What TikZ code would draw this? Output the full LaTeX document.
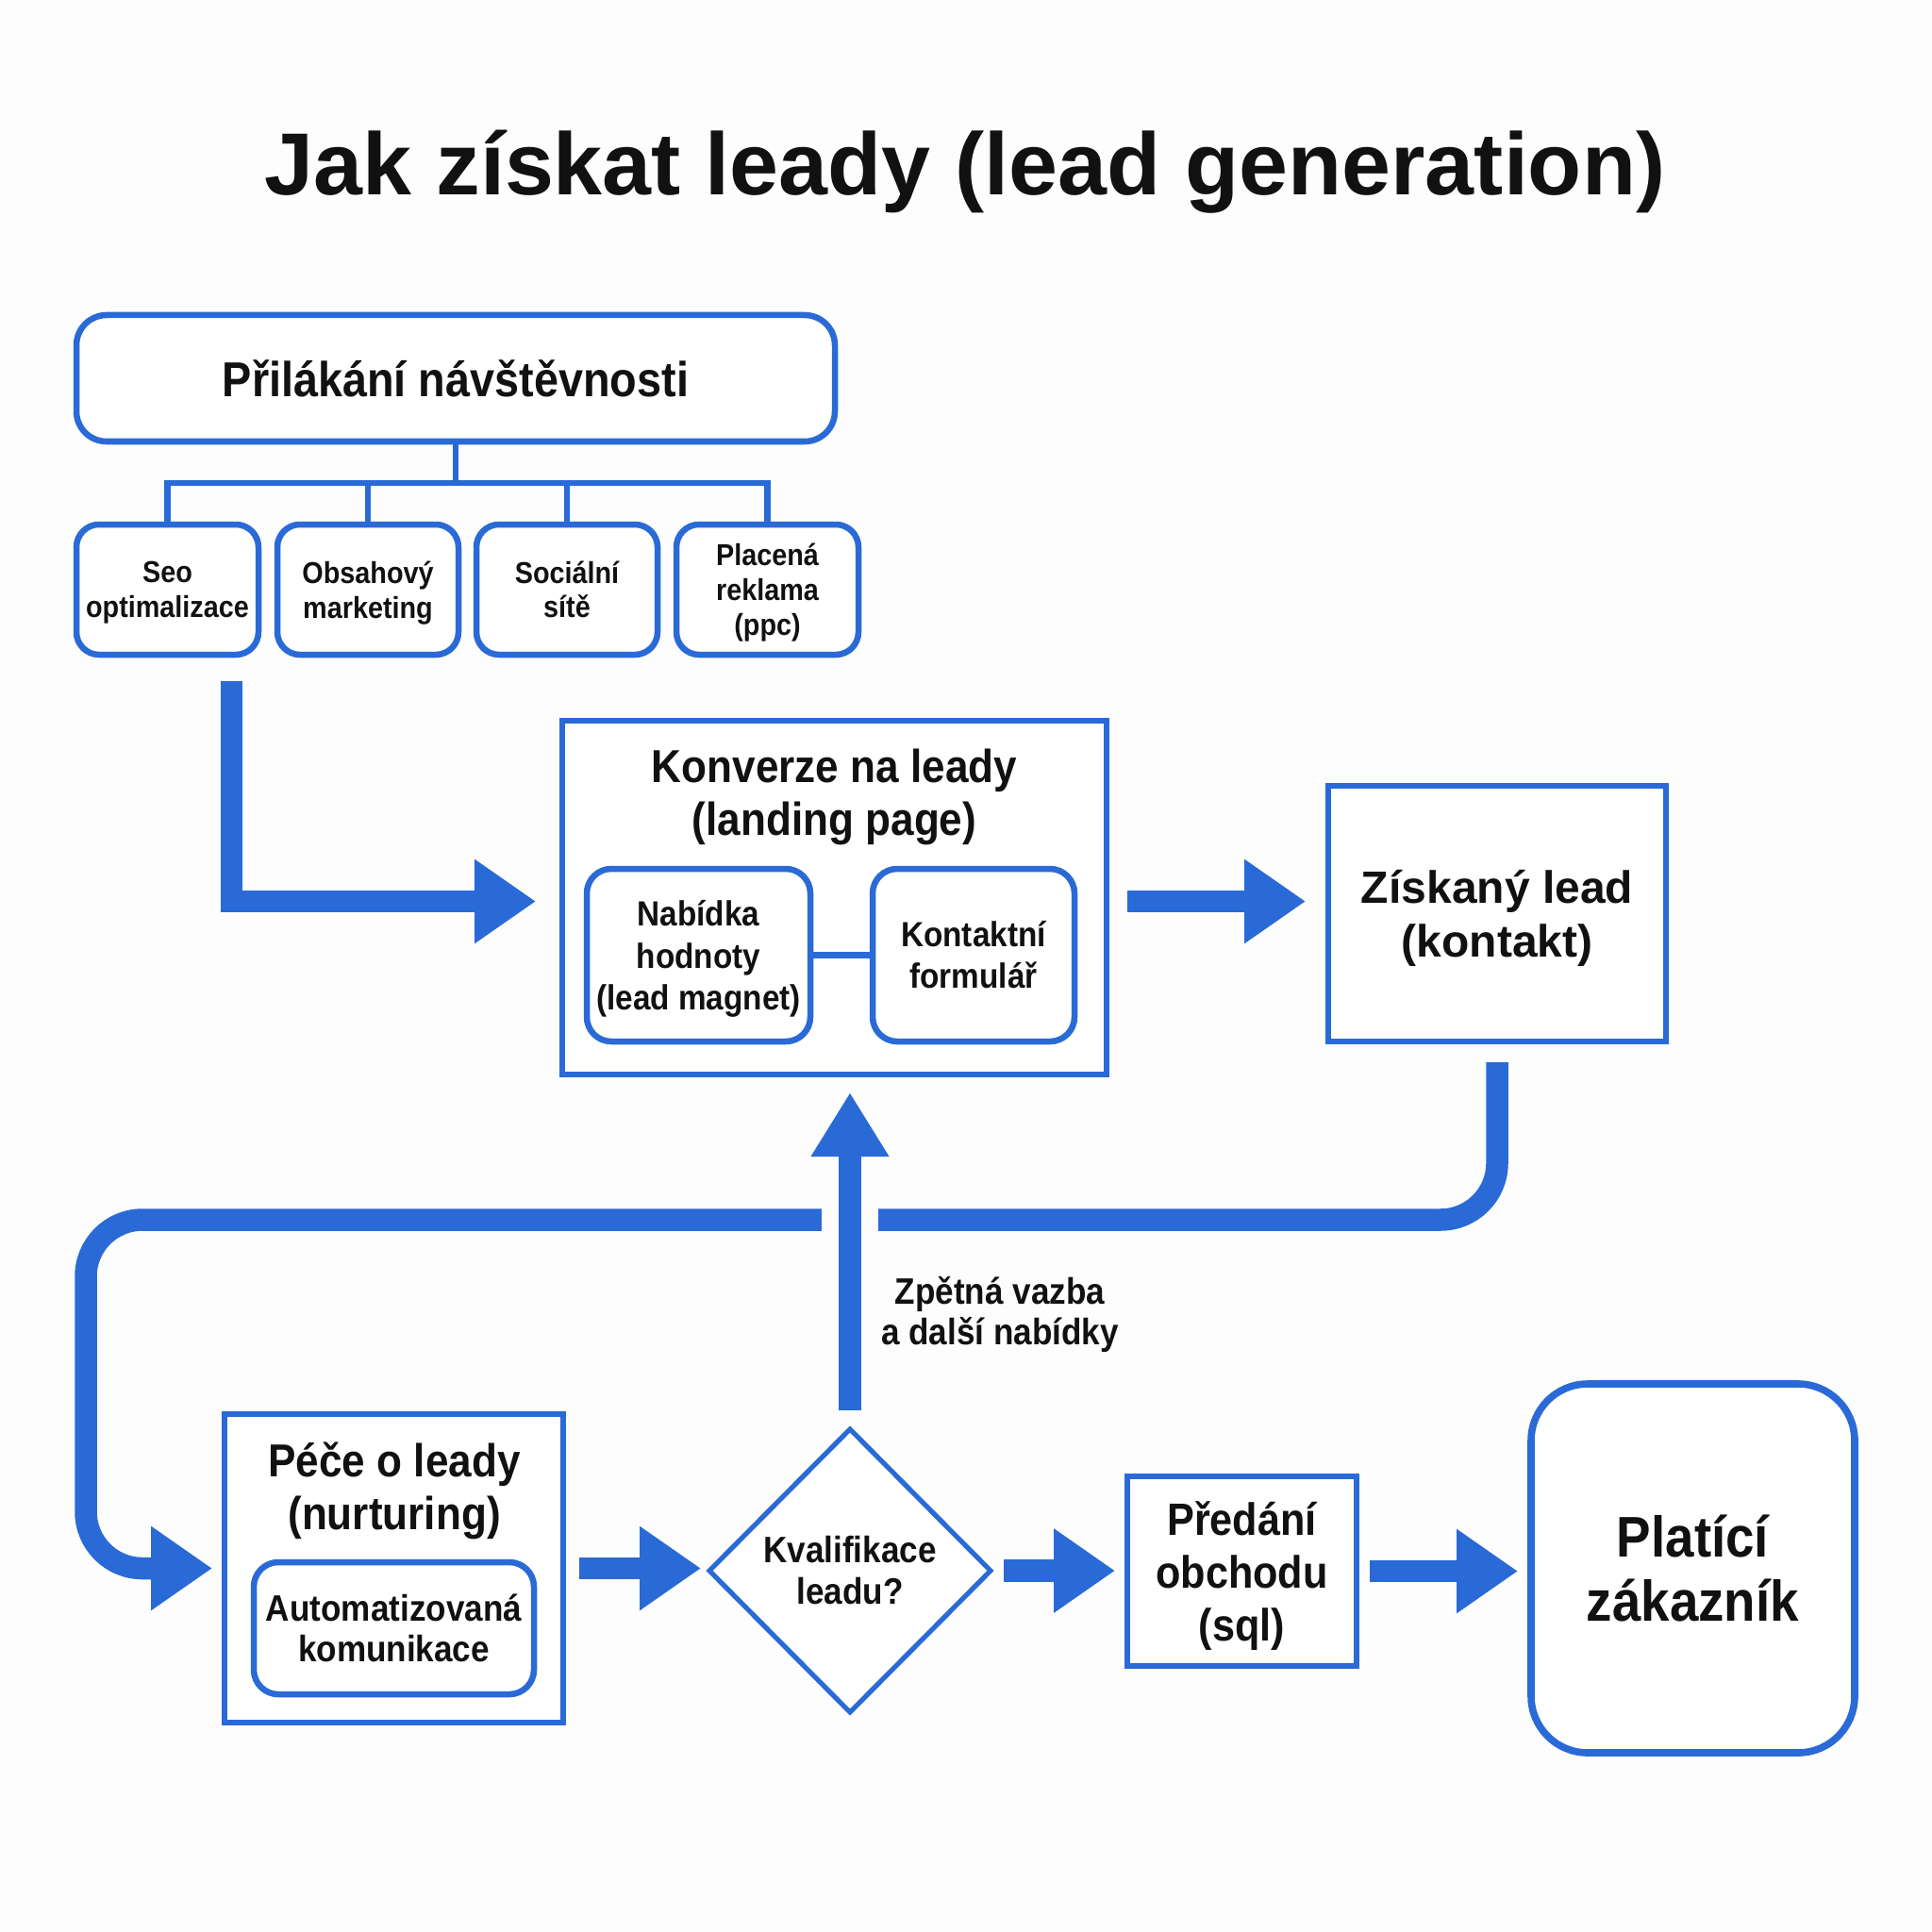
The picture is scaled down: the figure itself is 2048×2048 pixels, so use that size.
\documentclass[tikz,border=0pt]{standalone}
\usepackage{fontspec}
\setmainfont{Liberation Sans}
\newfontfamily\cf[FakeStretch=0.9]{Liberation Sans}
\usetikzlibrary{arrows.meta,shapes.geometric,calc}
\definecolor{bl}{RGB}{42,106,215}
\definecolor{ink}{RGB}{17,17,17}
\definecolor{bg}{RGB}{253,253,253}
\begin{document}
\begin{tikzpicture}[x=0.5pt,y=-0.5pt,
  box/.style={draw=bl, line width=3.25pt, fill=white, inner sep=0pt, outer sep=0pt, align=center, text=ink},
  rbox/.style={box, rounded corners=13pt},
  conn/.style={draw=bl, line width=3.25pt},
  blk/.style={draw=bl, line width=11.75pt, -{Triangle[length=32.5pt,width=42.5pt]}},
  fsmall/.style={font=\cf\bfseries\fontsize{16}{18.4}\selectfont},
  fmid/.style={font=\cf\bfseries\fontsize{19.5}{21.5}\selectfont},
  fbig/.style={font=\cf\bfseries\fontsize{24.5}{28}\selectfont},
  txt/.style={align=center, text=ink, inner sep=0pt}
]
\useasboundingbox[fill=bg] (0,0) rectangle (2048,2048);

% title
\node[txt, anchor=base, font=\bfseries\fontsize{46.7}{56}\selectfont] (title) at (1023,207) {Jak získat leady (lead generation)};

% attraction
\node[rbox, rounded corners=16pt, minimum width=402pt, minimum height=67pt, font=\cf\bfseries\fontsize{26}{31}\selectfont] (top) at (483,401) {Přilákání návštěvnosti};
\node[rbox, rounded corners=12pt, minimum width=96.5pt, minimum height=69pt, fsmall, text depth=0pt] (seo) at (177.5,625) {Seo\\optimalizace};
\node[rbox, rounded corners=12pt, minimum width=96pt, minimum height=69pt, fsmall, text depth=0pt] (obs) at (390,625) {Obsahový\\marketing};
\node[rbox, rounded corners=12pt, minimum width=96pt, minimum height=69pt, fsmall] (soc) at (601,625) {Sociální\\sítě};
\node[rbox, rounded corners=12pt, minimum width=96.5pt, minimum height=69pt, fsmall, text depth=0pt] (ppc) at (813.5,625) {Placená\\reklama\\(ppc)};
\coordinate (bar) at (483,512);
\draw[conn] (top.south) -- (bar);
\foreach \n in {seo,obs,soc,ppc} \draw[conn] (bar) -| (\n.north);

% conversion
\node[box, minimum width=288.5pt, minimum height=187.5pt] (conv) at (884.5,951.5) {};
\node[txt, fbig] (convt) at (884.5,845) {Konverze na leady\\(landing page)};
\node[rbox, minimum width=118.5pt, minimum height=91.5pt, text depth=0pt, font=\cf\bfseries\fontsize{18.5}{22.3}\selectfont] (nab) at (740.5,1012.5) {Nabídka\\hodnoty\\(lead magnet)};
\node[rbox, minimum width=107pt, minimum height=91.5pt, font=\cf\bfseries\fontsize{18.5}{22}\selectfont] (kon) at (1032,1012.5) {Kontaktní\\formulář};
\draw[conn] (nab) -- (kon);

% lead
\node[box, minimum width=179pt, minimum height=135.5pt, text depth=0pt, font=\bfseries\fontsize{24}{28.8}\selectfont] (zisk) at (1587,968.5) {Získaný lead\\(kontakt)};

% nurturing
\node[box, minimum width=179.5pt, minimum height=163.5pt] (pece) at (417.5,1662.5) {};
\node[txt, fbig] (pecet) at (418,1580) {Péče o leady\\(nurturing)};
\node[rbox, minimum width=148.5pt, minimum height=70pt, fmid] (auto) at (417.5,1726) {Automatizovaná\\komunikace};

% decision
\node[diamond, draw=bl, line width=2.6pt, fill=white, minimum width=149pt, minimum height=150pt, inner sep=0pt, outer sep=0pt, align=center, text=ink, font=\cf\bfseries\fontsize{19.5}{22}\selectfont] (dia) at (901,1665) {Kvalifikace\\leadu?};

\node[box, minimum width=121.5pt, minimum height=100.5pt, text depth=0pt, font=\cf\bfseries\fontsize{24}{28}\selectfont] (pred) at (1316.5,1665.5) {Předání\\obchodu\\(sql)};
\node[rbox, rounded corners=30pt, line width=3.8pt, minimum width=171.5pt, minimum height=195.5pt, font=\cf\bfseries\fontsize{30.4}{34}\selectfont] (plat) at (1794.5,1662.5) {Platící\\zákazník};

\node[txt, fmid] (fb) at (1060,1393) {Zpětná vazba\\a další nabídky};

% arrows
\coordinate (cin) at ($(conv.west)+(0,4)$);
\coordinate (cout) at ($(conv.east)+(0,4)$);
\draw[blk, line join=miter, shorten >=14pt] ($(seo.south)+(68,28)$) |- (cin);
\draw[blk, shorten <=11pt, shorten >=12pt] (cout) -- (cout -| zisk.west);
\coordinate (lr) at (1587,1293);
\coordinate (ll) at (91,1293);
\draw[blk, rounded corners=30pt, shorten <=11pt, shorten >=6.5pt] (zisk.south) -- (zisk.south |- lr) -- (ll) -- (ll |- pece.west) -- (pece.west);
\fill[bg] ($(dia.north |- lr)+(-30,-16)$) rectangle ($(dia.north |- lr)+(30,16)$);
\draw[blk, -{Triangle[length=34pt,width=39pt]}, shorten <=10pt, shorten >=9.5pt] (dia.north) -- (dia.north |- conv.south);
\draw[blk, shorten <=8.5pt, shorten >=4.5pt] (pece.east) -- (pece.east -| dia.west);
\draw[blk, shorten <=7pt, shorten >=6.5pt] (dia.east) -- (dia.east -| pred.west);
\draw[blk, shorten <=7pt, shorten >=7pt] (pred.east) -- (pred.east -| plat.west);
\end{tikzpicture}
\end{document}
